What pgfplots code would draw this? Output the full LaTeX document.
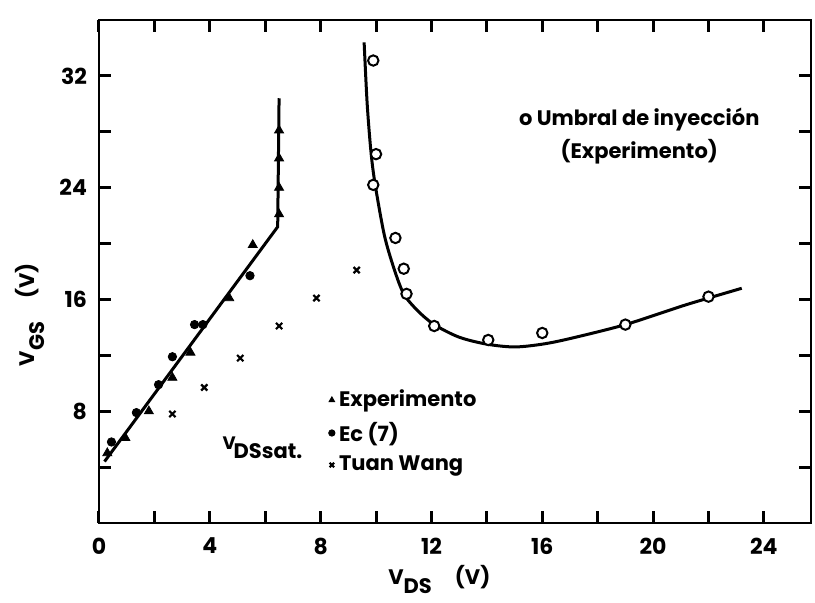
\documentclass[border=0pt]{standalone}
\usepackage{fontspec}
\setmainfont{Poppins}
\usepackage{pgfplots}
\pgfplotsset{compat=1.18}

\begin{document}
\begin{tikzpicture}[font=\bfseries\fontsize{10.5}{12.5}\selectfont]
\useasboundingbox (-49.5pt,-39.5pt) rectangle (358pt,261.5pt);
\begin{axis}[
    at={(0,0)}, anchor=south west,
    scale only axis,
    width=356pt, height=251.5pt,
    xmin=0, xmax=25.7, ymin=0, ymax=36,
    axis line style={line width=1.3pt, black},
    xtick={0,4,...,24}, minor xtick={2,6,...,22},
    ytick={8,16,24,32}, minor ytick={4,12,20,28},
    xtick pos=both, ytick pos=both,
    tick align=inside,
    major tick length=6pt, minor tick length=6pt,
    every tick/.style={black, line width=1.5pt},
    every minor tick/.style={black, line width=1.5pt},
    /pgf/number format/assume math mode=true,
    ticklabel style={font=\bfseries\fontsize{11}{13}\selectfont},
    xticklabel style={yshift=-4pt},
    yticklabel style={xshift=-2.5pt},
    xlabel={V\raisebox{-0.4em}{DS}\hspace{1.1em}(V)},
    xlabel style={at={(rel axis cs:0.478,-0.112)}, anchor=center},
    ylabel={V\raisebox{-0.45em}{GS}\hspace{1.1em}(V)},
    ylabel style={at={(rel axis cs:-0.097,0.414)}, anchor=center},
    legend style={at={(0.322,0.181)}, anchor=west, draw=none, fill=none,
        inner sep=0pt, row sep=2pt, font=\bfseries\fontsize{10.5}{12.5}\selectfont},
    legend cell align=left,
    legend image code/.code={\draw[mark repeat=2,mark phase=2,#1]
        plot coordinates {(0cm,0cm) (0.12cm,0cm) (0.24cm,0cm)};},
    legend image post style={mark size=1.6pt},
]
% fitted lines
\addplot[forget plot, black, line width=1.5pt] coordinates {(0.2,4.4) (6.45,21.2) (6.5,30.4)};
\addplot[forget plot, black, line width=1.5pt, smooth, tension=0.5] coordinates {
    (9.57,34.4) (9.68,30) (9.82,26.5) (9.97,24.2) (10.3,20.6) (10.65,18.2)
    (11.0,16.4) (11.5,15.2) (12.1,14.2) (13,13.3) (14,12.8) (15,12.6)
    (16,12.8) (17,13.2) (19,14.2) (21,15.5) (22,16.1) (23.2,16.8)};
% Experimento
\addplot[only marks, black, mark=triangle*, mark size=2.6pt] coordinates {
    (0.3,5.0) (0.95,6.1) (1.8,8.0) (2.65,10.4) (3.3,12.2) (4.7,16.1)
    (5.55,19.9) (6.5,22.1) (6.5,24) (6.5,26.1) (6.5,28.1)};
% Ec (7)
\addplot[only marks, black, mark=*, mark size=2.1pt] coordinates {
    (0.45,5.8) (1.35,7.9) (2.15,9.9) (2.65,11.9) (3.45,14.2) (3.75,14.2) (5.45,17.7)};
% Tuan Wang
\addplot[only marks, black, mark=x, mark size=2.2pt, line width=1.1pt] coordinates {
    (2.65,7.8) (3.8,9.7) (5.1,11.8) (6.5,14.1) (7.85,16.1) (9.3,18.1)};
% Umbral de inyeccion
\addplot[forget plot, only marks, black, mark=*, mark size=2.6pt, line width=1pt,
    mark options={fill=white}] coordinates {
    (9.9,33.1) (10.0,26.4) (9.9,24.2) (10.7,20.4) (11.0,18.2) (11.1,16.4)
    (12.1,14.1) (14.05,13.1) (16,13.6) (19,14.2) (22,16.2)};
\legend{Experimento, Ec (7), Tuan Wang}
\node[align=center] at (axis cs:19.5,27.7) {o Umbral de inyección\\[4pt](Experimento)};
\node at (axis cs:5.9,5.4) {\raisebox{0.45em}{\fontsize{9}{10}\selectfont V}\kern-0.1em DSsat.};
\end{axis}
\end{tikzpicture}
\end{document}
